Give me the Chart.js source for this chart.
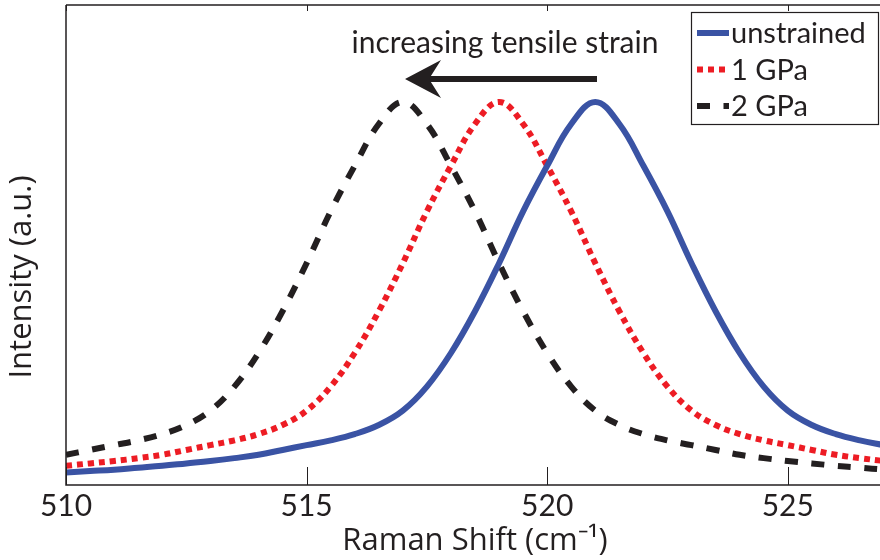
<!DOCTYPE html>
<html>
<head>
<meta charset="utf-8">
<script src="https://cdn.jsdelivr.net/npm/chart.js@4.4.1/dist/chart.umd.min.js"></script>
<style>
  html, body { margin: 0; padding: 0; background: #fff; overflow: hidden; }
  #wrap { width: 886px; height: 560px; }
</style>
</head>
<body>
<div id="wrap"><canvas id="chart" width="886" height="560"></canvas></div>
<script>
// Raman shift axis (cm^-1), 0.5 steps
const shift = [510, 510.5, 511, 511.5, 512, 512.5, 513, 513.5, 514, 514.5,
  515, 515.5, 516, 516.5, 517, 517.5, 518, 518.5, 519, 519.5,
  520, 520.5, 521, 521.5, 522, 522.5, 523, 523.5, 524, 524.5,
  525, 525.5, 526, 526.5, 527];

const unstrained = [0.026, 0.029, 0.032, 0.036, 0.040, 0.045, 0.050, 0.056, 0.063, 0.073,
  0.083, 0.093, 0.106, 0.125, 0.155, 0.205, 0.275, 0.362, 0.462, 0.570,
  0.665, 0.752, 0.798, 0.752, 0.665, 0.570, 0.462, 0.362, 0.275, 0.205,
  0.155, 0.125, 0.106, 0.093, 0.083];

const gpa1 = [0.040, 0.045, 0.050, 0.056, 0.063, 0.073, 0.083, 0.093, 0.106, 0.125,
  0.155, 0.205, 0.275, 0.362, 0.462, 0.570, 0.665, 0.752, 0.798, 0.752,
  0.665, 0.570, 0.462, 0.362, 0.275, 0.205, 0.155, 0.125, 0.106, 0.093,
  0.083, 0.073, 0.063, 0.056, 0.050];

const gpa2 = [0.063, 0.073, 0.083, 0.093, 0.106, 0.125, 0.155, 0.205, 0.275, 0.362,
  0.462, 0.570, 0.665, 0.752, 0.798, 0.752, 0.665, 0.570, 0.462, 0.362,
  0.275, 0.205, 0.155, 0.125, 0.106, 0.093, 0.083, 0.073, 0.063, 0.056,
  0.050, 0.045, 0.040, 0.036, 0.032];

const seriesNames = ['unstrained', '1 GPa', '2 GPa'];
const xTicks = [510, 515, 520, 525];

const INK = '#231f20';
const FONT = 'Lato';
const TITLE_FONT = 'Open Sans';

function pts(vals) {
  return shift.map((x, i) => ({ x: x, y: vals[i] }));
}

// frame, inward ticks, y title, legend and the strain arrow
const decor = {
  id: 'decor',
  afterDraw(chart) {
    const ctx = chart.ctx;
    const a = chart.chartArea;
    const xs = chart.scales.x;
    ctx.save();
    ctx.strokeStyle = INK;
    ctx.lineWidth = 1.5;
    ctx.beginPath();
    ctx.moveTo(a.left, a.top);
    ctx.lineTo(a.right, a.top);
    ctx.moveTo(a.left, a.top);
    ctx.lineTo(a.left, a.bottom);
    ctx.lineTo(a.right, a.bottom);
    ctx.stroke();

    ctx.lineWidth = 1;
    xTicks.forEach(v => {
      const px = Math.round(xs.getPixelForValue(v)) + 0.5;
      ctx.beginPath();
      ctx.moveTo(px, a.bottom);
      ctx.lineTo(px, a.bottom - 18);
      ctx.moveTo(px, a.top);
      ctx.lineTo(px, a.top + 6);
      ctx.stroke();
    });

    // y axis title, sits a little below the middle of the axis
    ctx.save();
    ctx.translate(22, 277);
    ctx.rotate(-Math.PI / 2);
    ctx.fillStyle = INK;
    ctx.font = '31px "' + TITLE_FONT + '"';
    ctx.textAlign = 'center';
    ctx.textBaseline = 'middle';
    ctx.fillText('Intensity (a.u.)', 0, 0);
    ctx.restore();

    // legend box
    const bx = 691, by = 12, bw = 187, bh = 112;
    ctx.fillStyle = '#fff';
    ctx.fillRect(bx, by, bw, bh);
    ctx.lineWidth = 1.2;
    ctx.strokeRect(bx + 0.5, by + 0.5, bw, bh);
    const ds = chart.data.datasets;
    ds.forEach((d, i) => {
      const y = 33 + i * 36.5;
      ctx.save();
      ctx.beginPath();
      ctx.rect(bx + 4, y - 10, 38, 20);
      ctx.clip();
      ctx.strokeStyle = d.borderColor;
      ctx.lineWidth = d.borderWidth;
      ctx.setLineDash(d.borderDash || []);
      ctx.beginPath();
      ctx.moveTo(697, y);
      ctx.lineTo(729, y);
      ctx.stroke();
      ctx.restore();
      ctx.fillStyle = INK;
      ctx.font = '29px ' + FONT;
      ctx.textBaseline = 'middle';
      ctx.textAlign = 'left';
      ctx.fillText(d.label, 731, y + 1);
    });

    // annotation
    ctx.fillStyle = INK;
    ctx.font = '30px ' + FONT;
    ctx.textAlign = 'center';
    ctx.textBaseline = 'alphabetic';
    ctx.fillText('increasing tensile strain', 505, 53);

    ctx.lineWidth = 6;
    ctx.beginPath();
    ctx.moveTo(597, 79);
    ctx.lineTo(428, 79);
    ctx.stroke();
    ctx.beginPath();
    ctx.moveTo(405, 79);
    ctx.lineTo(441, 60);
    ctx.lineTo(429, 79);
    ctx.lineTo(441, 98);
    ctx.closePath();
    ctx.fill();
    ctx.restore();
  }
};

new Chart(document.getElementById('chart'), {
  type: 'line',
  data: {
    datasets: [
      { label: seriesNames[0], data: pts(unstrained), borderColor: '#3a53a4', borderWidth: 6 },
      { label: seriesNames[1], data: pts(gpa1), borderColor: '#ed1c24', borderWidth: 6, borderDash: [6, 5] },
      { label: seriesNames[2], data: pts(gpa2), borderColor: INK, borderWidth: 6, borderDash: [13, 13.5] }
    ]
  },
  options: {
    responsive: false,
    animation: false,
    layout: { padding: { top: 5, right: 2, left: 0, bottom: 0 } },
    elements: {
      point: { radius: 0 },
      line: { tension: 0.4, borderCapStyle: 'butt', fill: false }
    },
    plugins: { legend: { display: false }, tooltip: { enabled: false } },
    scales: {
      x: {
        type: 'linear',
        min: 510,
        max: 527,
        afterFit: s => { s.height = 75; },
        grid: { display: false, drawTicks: false },
        border: { display: false },
        ticks: {
          stepSize: 5,
          includeBounds: false,
          color: INK,
          padding: 3,
          font: { family: FONT, size: 30 }
        },
        title: {
          display: true,
          text: 'Raman Shift (cm\u207B\u00B9)',
          color: INK,
          padding: { top: 0, bottom: 0 },
          font: { family: TITLE_FONT, size: 31 }
        }
      },
      y: {
        min: 0,
        max: 1,
        afterFit: s => { s.width = 66; },
        grid: { display: false, drawTicks: false },
        border: { display: false },
        ticks: { display: false },
        title: { display: false }
      }
    }
  },
  plugins: [decor]
});
</script>
</body>
</html>
